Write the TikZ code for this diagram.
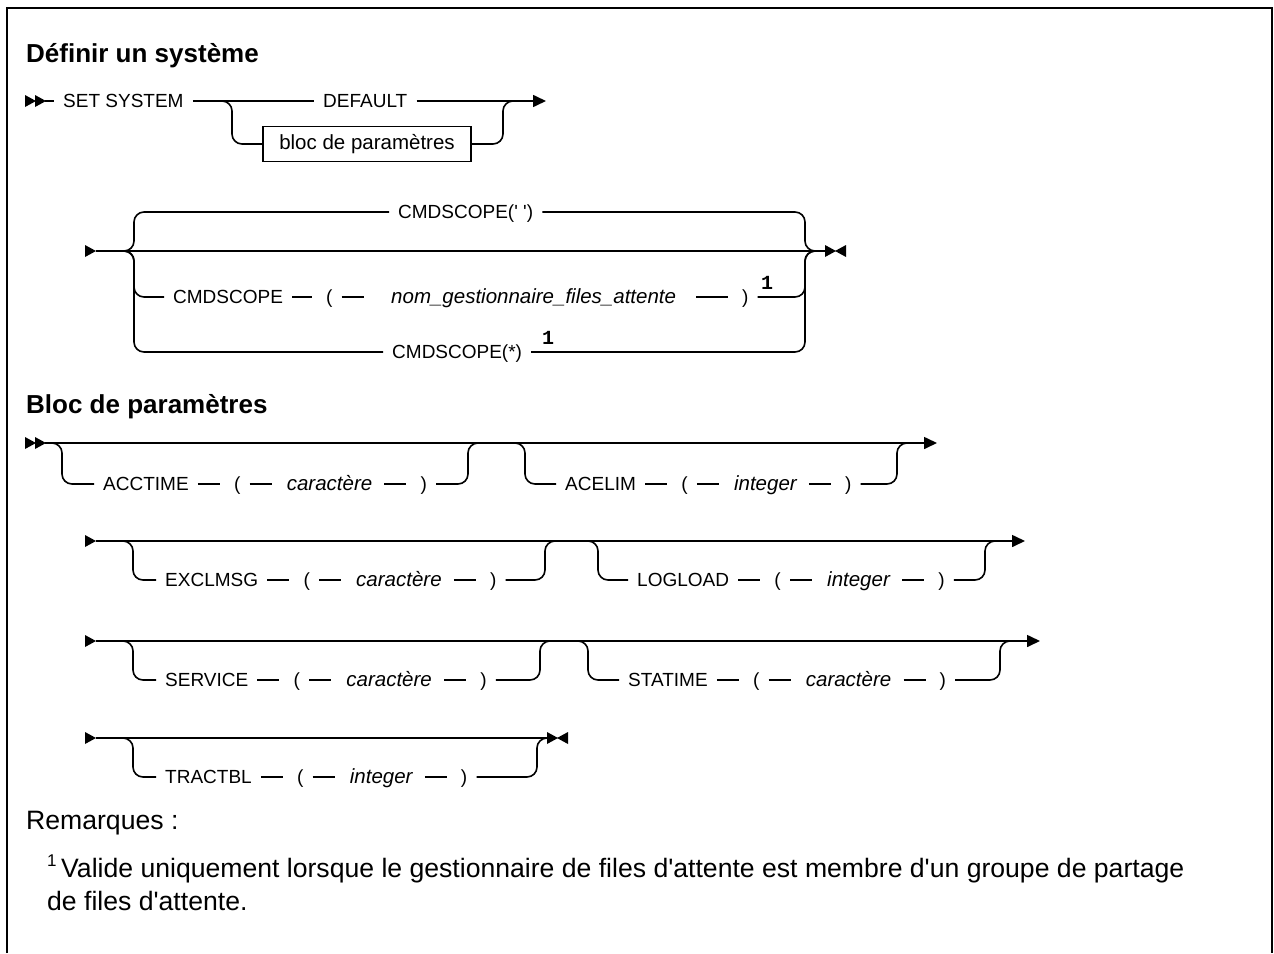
\documentclass[tikz,border=0pt]{standalone}
\usepackage{fontspec}
\setmainfont{Liberation Sans}[Ligatures=TeXOff]
\newfontfamily\supfont{Liberation Mono}
\usetikzlibrary{positioning,arrows.meta}
\tikzset{
  rail/.style={line width=1.6pt, rounded corners=10pt},
  seg/.style={line width=1.6pt},
  tok/.style={font=\fontsize{19}{22}\selectfont, inner xsep=9pt, inner ysep=0pt, text height=13.6pt, text depth=0pt},
  par/.style={tok, execute at begin node={\hspace*{5pt}}},
  var/.style={tok, font=\fontsize{20.5}{24}\selectfont\itshape, execute at begin node={\hspace*{6pt}}, execute at end node={\hspace*{3pt}}},
  tipend/.style={-{Triangle[length=13pt,width=12pt]}},
  blocbox/.style={draw, line width=1.6pt, font=\fontsize{20.5}{24}\selectfont, minimum width=208pt, minimum height=35pt, inner sep=0pt, text height=14pt, text depth=4pt},
  fnum/.style={font=\supfont\bfseries\fontsize{20}{22}\selectfont, inner sep=0pt},
  head/.style={font=\bfseries\fontsize{26}{30}\selectfont, anchor=base west, inner sep=0pt},
  body/.style={font=\fontsize{26.6}{30}\selectfont, anchor=base west, inner sep=0pt},
}
\newcommand\rtri[2]{\fill (#1,{#2-6}) -- ({#1+11},#2) -- (#1,{#2+6}) -- cycle;}
\newcommand\ltri[2]{\fill (#1,{#2-6}) -- ({#1-11},#2) -- (#1,{#2+6}) -- cycle;}
% #1 name, #2 text x, #3 branch y, #4 keyword, #5 value, #6 left x, #7 right x, #8 main y
\newcommand\pblk[8]{%
  \node[tok, anchor=west] (#1k) at ({#2-9},#3) {#4};
  \node[par, right=22pt of #1k] (#1o) {(};
  \node[var, right=22pt of #1o] (#1v) {#5};
  \node[par, right=22pt of #1v] (#1c) {)};
  \coordinate (#1a) at ({#6-12},#8);
  \coordinate (#1b) at (#6,#3);
  \coordinate (#1d) at (#7,#3);
  \coordinate (#1e) at ({#7+12},#8);
  \draw[rail] (#1a) -| (#1b) -- (#1k);
  \draw[seg] (#1k) -- (#1o);
  \draw[seg] (#1o) -- (#1v);
  \draw[seg] (#1v) -- (#1c);
  \draw[rail] (#1c) -- (#1d) |- (#1e);
}
\begin{document}
\begin{tikzpicture}[x=1pt,y=-1pt]
\useasboundingbox (0,0) rectangle (1274,953);
\draw[line width=2.6pt] (7,953) -- (7,8) -- (1272,8) -- (1272,953);

% ---------- Title ----------
\node[head] (t1) at (26,62) {Définir un système};

% ---------- Row 1 ----------
\rtri{25}{101}\rtri{35}{101}
\coordinate (r1s) at (45,101);
\node[tok, anchor=west] (set) at (54,101) {SET SYSTEM};
\node[tok, anchor=west] (def) at (314,101) {DEFAULT};
\node[blocbox] (bloc) at (367,144) {bloc de paramètres};
\coordinate (r1e) at (546,101);
\coordinate (r1f) at (220,101);
\coordinate (r1v) at (232,144);
\coordinate (r1w) at (503,144);
\coordinate (r1j) at (515,101);
\draw[seg] (r1s) -- (set);
\draw[seg] (set) -- (def);
\draw[seg, tipend] (def) -- (r1e);
\draw[rail] (r1f) -| (r1v) -- (bloc);
\draw[rail] (bloc) -- (r1w) |- (r1j);

% ---------- Row 2 ----------
\rtri{85}{251}
\coordinate (r2s) at (96,251);
\coordinate (r2e) at (825,251);
\draw[seg] (r2s) -- (r2e);
\rtri{825}{251}\ltri{846}{251}
\coordinate (r2f) at (122,251);
\coordinate (r2j) at (817,251);
\coordinate (r2ta) at (134,212);
\coordinate (r2tb) at (805,212);
\coordinate (r2ma) at (134,297);
\coordinate (r2mb) at (805,297);
\coordinate (r2ba) at (134,352);
\coordinate (r2bb) at (805,352);
% top branch
\node[tok, anchor=west] (cs1) at (389,212) {CMDSCOPE(' ')};
\draw[rail] (r2f) -| (r2ta) -- (cs1);
\draw[rail] (cs1) -- (r2tb) |- (r2j);
% middle branch
\node[tok, anchor=west] (cs2) at (164,297) {CMDSCOPE};
\node[par, anchor=west] (cs2o) at (312,297) {(};
\node[var, anchor=west, execute at begin node={\hspace*{12pt}}, execute at end node={\hspace*{8pt}}] (cs2v) at (364,297) {nom\_gestionnaire\_files\_attente};
\node[par, anchor=west] (cs2c) at (728,297) {)};
\node[fnum] (cs2n) at (767,283) {1};
\draw[rail] (r2f) -| (r2ma) -- (cs2);
\draw[seg] (cs2) -- (cs2o);
\draw[seg] (cs2o) -- (cs2v);
\draw[seg] (cs2v) -- (cs2c);
\draw[rail] (cs2c) -- (r2mb) |- (r2j);
% bottom branch
\node[tok, anchor=west] (cs3) at (383,352) {CMDSCOPE(*)};
\node[fnum] (cs3n) at (548,338) {1};
\draw[rail] (r2f) -| (r2ba) -- (cs3);
\draw[rail] (cs3) -- (r2bb) |- (r2j);

% ---------- Bloc de parametres ----------
\node[head] (t2) at (26,413) {Bloc de paramètres};

% Row 3
\rtri{25}{443}\rtri{35}{443}
\coordinate (r3s) at (45,443);
\coordinate (r3e) at (937,443);
\draw[seg, tipend] (r3s) -- (r3e);
\pblk{acc}{103}{484}{ACCTIME}{caractère}{62}{468}{443}
\pblk{ace}{565}{484}{ACELIM}{integer}{525}{897}{443}

% Row 4
\rtri{85}{541}
\coordinate (r4s) at (96,541);
\coordinate (r4e) at (1025,541);
\draw[seg, tipend] (r4s) -- (r4e);
\pblk{exc}{165}{580}{EXCLMSG}{caractère}{133}{545}{541}
\pblk{log}{637}{580}{LOGLOAD}{integer}{598}{985}{541}

% Row 5
\rtri{85}{641}
\coordinate (r5s) at (96,641);
\coordinate (r5e) at (1040,641);
\draw[seg, tipend] (r5s) -- (r5e);
\pblk{ser}{165}{680}{SERVICE}{caractère}{133}{540}{641}
\pblk{sta}{628}{680}{STATIME}{caractère}{588}{1000}{641}

% Row 6
\rtri{85}{738}
\coordinate (r6s) at (96,738);
\coordinate (r6e) at (547,738);
\draw[seg] (r6s) -- (r6e);
\rtri{547}{738}\ltri{568}{738}
\pblk{tra}{165}{777}{TRACTBL}{integer}{133}{537}{738}

% ---------- Notes ----------
\node[body] (rem) at (26,829) {Remarques :};
\node[body, font=\fontsize{17}{20}\selectfont] (fn1) at (47,866) {1};
\node[body] (fnt) at (61,877) {Valide uniquement lorsque le gestionnaire de files d'attente est membre d'un groupe de partage};
\node[body] (fnt2) at (47,910) {de files d'attente.};
\end{tikzpicture}
\end{document}
